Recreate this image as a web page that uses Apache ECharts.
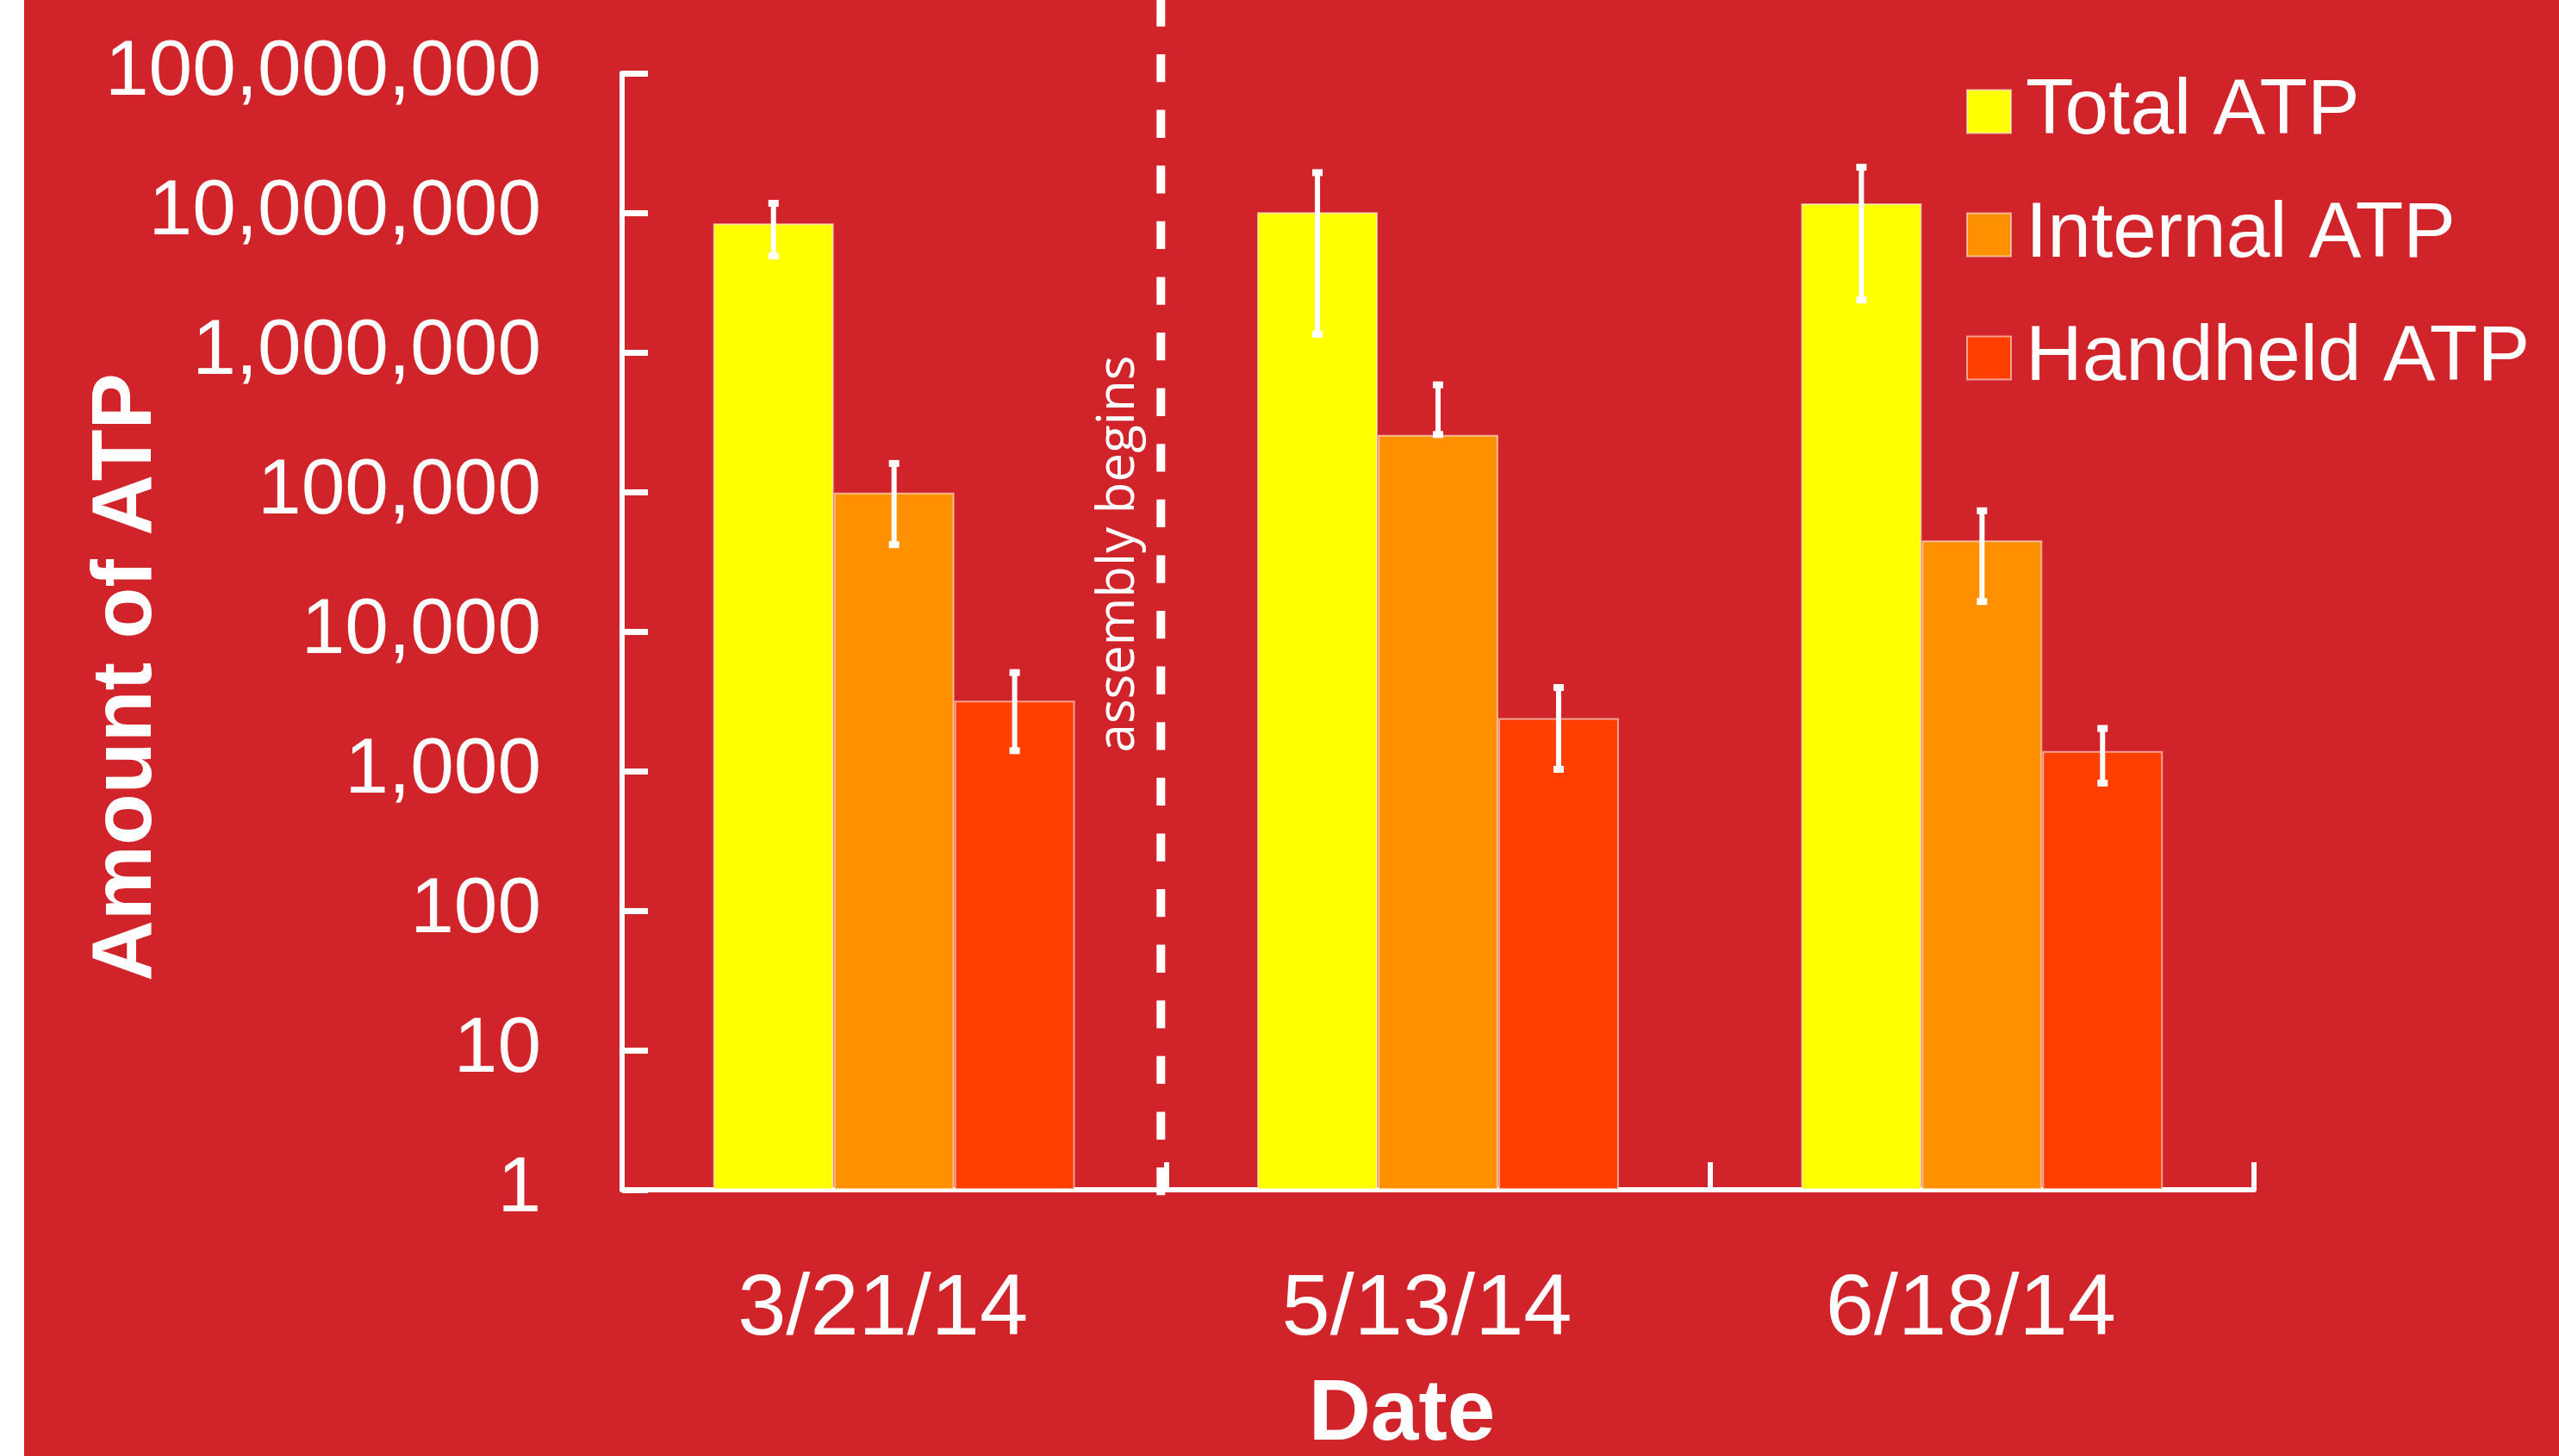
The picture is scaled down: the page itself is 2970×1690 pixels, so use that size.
<!DOCTYPE html>
<html>
<head>
<meta charset="utf-8">
<script src="https://cdn.jsdelivr.net/npm/echarts@6/dist/echarts.min.js"></script>
<style>
html,body{margin:0;padding:0;background:#fff;}
#chart{width:2970px;height:1690px;}
</style>
</head>
<body>
<div id="chart"></div>
<script>
// ---- data ----
const categories = ['3/21/14', '5/13/14', '6/18/14'];
const seriesNames = ['Total ATP', 'Internal ATP', 'Handheld ATP'];
const totalATP = [8400000, 10100000, 11700000];
const internalATP = [99000, 256000, 45000];
const handheldATP = [3200, 2400, 1390];
const totalLow = [4900000, 1350000, 2370000];
const totalHigh = [11700000, 19400000, 21200000];
const internalLow = [41900, 258000, 16400];
const internalHigh = [160000, 585000, 73300];
const handheldLow = [1400, 1030, 820];
const handheldHigh = [5080, 3970, 2020];
const yTickValues = [1, 10, 100, 1000, 10000, 100000, 1000000, 10000000, 100000000];
const annotationText = 'assembly begins';

// ---- styles ----
const FONT = '"Liberation Sans", Arial, sans-serif';
const BG = '#D1232A';
const COLORS = ['#FFFF00', '#FF9000', '#FF3F00'];
const BAR_CAT_GAP = 0.335;

const errData = [];
[[totalLow, totalHigh], [internalLow, internalHigh], [handheldLow, handheldHigh]].forEach((pair, si) => {
  categories.forEach((c, ci) => errData.push([ci, pair[0][ci], pair[1][ci], si]));
});

function renderErr(params, api) {
  const ci = api.value(0), lo = api.value(1), hi = api.value(2), si = api.value(3);
  const pLo = api.coord([ci, lo]);
  const pHi = api.coord([ci, hi]);
  const band = api.size([1, 1])[0];
  const bw = band * (1 - BAR_CAT_GAP) / 3;
  const x = pLo[0] + (si - 1) * bw;
  return {
    type: 'group',
    children: [
      { type: 'line', shape: { x1: x, y1: pHi[1], x2: x, y2: pLo[1] }, style: { stroke: '#fff', lineWidth: 6 } },
      { type: 'rect', shape: { x: x - 6, y: pHi[1] - 4, width: 12, height: 8 }, style: { fill: '#fff' } },
      { type: 'rect', shape: { x: x - 6, y: pLo[1] - 4, width: 12, height: 8 }, style: { fill: '#fff' } }
    ]
  };
}

function fmt(v) {
  return Math.round(v).toString().replace(/\B(?=(\d{3})+(?!\d))/g, ',');
}

const barStyle = (i) => ({ color: COLORS[i], borderColor: 'rgba(255,255,255,0.55)', borderWidth: 2 });

const chart = echarts.init(document.getElementById('chart'), null, { renderer: 'canvas' });
const option = {
  backgroundColor: BG,
  animation: false,
  grid: { left: 722, right: 354, top: 85, bottom: 309, containLabel: false, outerBoundsMode: 'none' },
  legend: {
    data: seriesNames,
    orient: 'vertical',
    left: 2277,
    top: 79,
    itemWidth: 51,
    itemHeight: 50,
    itemGap: 52,
    icon: 'rect',
    textStyle: { color: '#fff', fontSize: 91, fontFamily: FONT, padding: [0, 0, 0, 12] }
  },
  xAxis: {
    type: 'category',
    data: categories,
    name: 'Date',
    nameLocation: 'middle',
    nameGap: 212,
    nameMoveOverlap: false,
    nameTextStyle: { color: '#fff', fontSize: 100, fontWeight: 'bold', fontFamily: FONT, padding: [0, 84, 0, 0] },
    axisLine: { lineStyle: { color: '#fff', width: 6 } },
    axisTick: { show: true, inside: true, length: 32, lineStyle: { color: '#fff', width: 6 } },
    axisLabel: { color: '#fff', fontSize: 101, fontFamily: FONT, margin: 90, padding: [0, 26, 0, 0] },
    splitLine: { show: false }
  },
  yAxis: {
    type: 'log',
    logBase: 10,
    min: 1,
    max: 100000000,
    splitNumber: 8,
    name: 'Amount of ATP',
    nameLocation: 'middle',
    nameRotate: 90,
    nameGap: 525,
    nameMoveOverlap: false,
    nameTextStyle: { color: '#fff', fontSize: 98, fontWeight: 'bold', fontFamily: FONT, padding: [0, 106, 0, 0] },
    axisLine: { show: true, lineStyle: { color: '#fff', width: 6 } },
    axisTick: { show: true, inside: true, length: 30, lineStyle: { color: '#fff', width: 7 } },
    axisLabel: {
      color: '#fff', fontSize: 91, fontFamily: FONT, margin: 94,
      formatter: (v) => (yTickValues.indexOf(Math.round(v)) >= 0 ? fmt(v) : '')
    },
    splitLine: { show: false }
  },
  series: [
    { name: seriesNames[0], type: 'bar', data: totalATP, itemStyle: barStyle(0), barGap: '0%', barCategoryGap: (BAR_CAT_GAP * 100) + '%' },
    { name: seriesNames[1], type: 'bar', data: internalATP, itemStyle: barStyle(1), barGap: '0%', barCategoryGap: (BAR_CAT_GAP * 100) + '%' },
    { name: seriesNames[2], type: 'bar', data: handheldATP, itemStyle: barStyle(2), barGap: '0%', barCategoryGap: (BAR_CAT_GAP * 100) + '%' },
    { name: 'error', type: 'custom', renderItem: renderErr, data: errData, encode: { x: 0, y: [1, 2] }, z: 10, clip: false }
  ]
};
chart.setOption(option);

// annotation: dashed divider between first and second date, plus text
const c0 = chart.convertToPixel({ xAxisIndex: 0 }, 0);
const c1 = chart.convertToPixel({ xAxisIndex: 0 }, 1);
const boundary = (c0 + c1) / 2;
const yBase = chart.convertToPixel({ yAxisIndex: 0 }, 1);
chart.setOption({
  graphic: [
    { type: 'rect', left: 0, top: 0, shape: { x: 0, y: 0, width: 28, height: 1690 }, style: { fill: '#fff' }, z: 100 },
    {
      type: 'line', z: 50,
      shape: { x1: boundary - 6, y1: -1.6, x2: boundary - 6, y2: yBase + 9 },
      style: { stroke: '#fff', lineWidth: 10, lineDash: [32.3, 32.3] }
    },
    {
      type: 'text', z: 50,
      x: boundary - 54, y: 643, rotation: Math.PI / 2,
      style: {
        text: annotationText, fill: '#fff', fontSize: 60, fontWeight: 'normal',
        fontFamily: '"Open Sans", "Noto Sans", sans-serif', align: 'center', verticalAlign: 'middle'
      }
    }
  ]
});
</script>
</body>
</html>
